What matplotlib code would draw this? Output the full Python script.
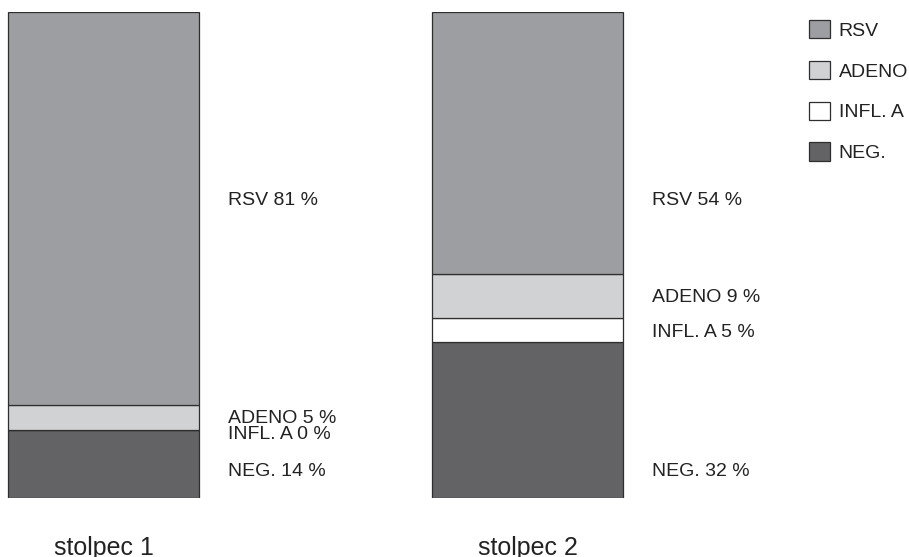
import matplotlib.pyplot as plt
from matplotlib.patches import Patch
import numpy as np

plt.rcParams['font.family'] = ['Liberation Sans', 'DejaVu Sans']

columns = ["stolpec 1", "stolpec 2"]
series = ["NEG.", "INFL. A", "ADENO", "RSV"]   # bottom -> top
neg = [14, 32]
infl_a = [0, 5]
adeno = [5, 9]
rsv = [81, 54]

colors = ["#636365", "#ffffff", "#d1d2d4", "#9d9ea2"]
edge = "#2e2e2e"

# where the value labels sit (percent units on the y axis)
label_y = {
    "RSV": [60.2, 60.2],
    "ADENO": [15.4, 40.3],
    "INFL. A": [12.1, 33.1],
    "NEG.": [4.5, 4.5],
}

fig = plt.figure(figsize=(9.09, 5.57), dpi=100)
W, H = 909, 557
bar_top, bar_bot = 11.7, 497.8
ax = fig.add_axes([0, (H - bar_bot) / H, 1, (bar_bot - bar_top) / H])

x = np.arange(len(columns))
px_per_unit = 424.0
width = 191 / px_per_unit

bottom = np.zeros(len(columns))
values = [neg, infl_a, adeno, rsv]
for name, vals, col in zip(series, values, colors):
    vals = np.array(vals, dtype=float)
    ax.bar(x, vals, width, bottom=bottom, color=col, edgecolor=edge,
           linewidth=0.9, zorder=2)
    for i in range(len(columns)):
        ax.text(x[i] + width / 2 + 29 / px_per_unit, label_y[name][i],
                f"{name} {int(vals[i])} %", fontsize=14, va="baseline",
                ha="left", color="#222222")
    bottom += vals

ax.set_xlim(-103.5 / px_per_unit, (W - 103.5) / px_per_unit)
ax.set_ylim(0, 100)
ax.set_xticks(x)
ax.set_xticklabels(columns, fontsize=18, color="#222222")
ax.tick_params(axis="x", length=0, pad=27.5)
ax.set_yticks([])
for spine in ax.spines.values():
    spine.set_visible(False)

handles = [Patch(facecolor=c, edgecolor=edge, linewidth=0.9)
           for c in colors[::-1]]
ax.legend(handles, series[::-1], loc="upper left",
          bbox_to_anchor=(809 / W, 1 - 20 / H), bbox_transform=fig.transFigure,
          frameon=False, fontsize=14, borderpad=0, borderaxespad=0,
          handlelength=1.08, handleheight=1.08, handletextpad=0.45,
          labelspacing=1.08, labelcolor="#222222")

fig.savefig("out.png", dpi=100)
